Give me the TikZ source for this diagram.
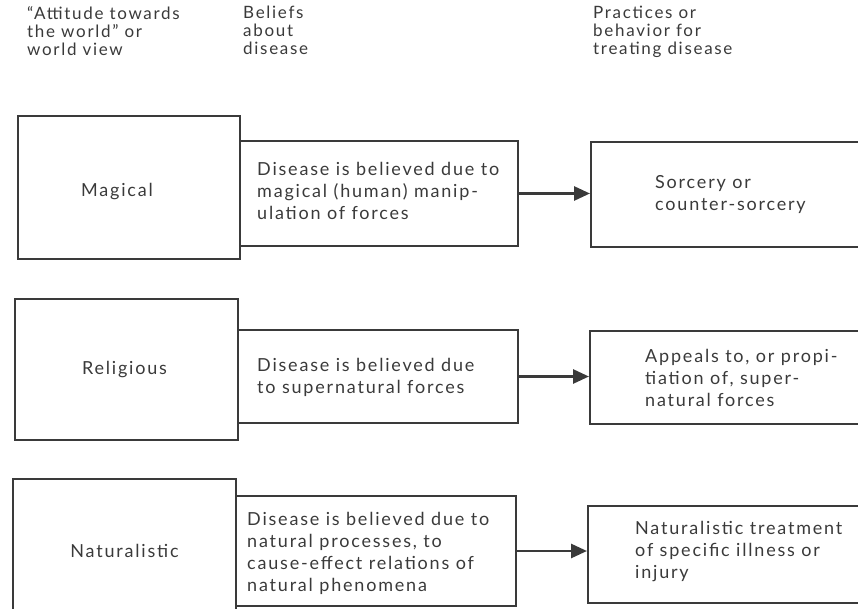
\documentclass[tikz,border=0pt]{standalone}
\usepackage{fontspec}
\setmainfont{Lato}
\newfontfamily\bodyfont[LetterSpace=10]{Lato}
\newfontfamily\headfont[LetterSpace=10]{Lato}
\usetikzlibrary{arrows.meta,calc}
\definecolor{ink}{HTML}{3A3A3A}
\begin{document}
\begin{tikzpicture}[x=1pt,y=-1pt,
  box/.style={draw=ink,line width=2pt,rectangle,inner sep=0pt,anchor=north west},
  body/.style={text=ink,font=\bodyfont\fontsize{18}{22}\selectfont,align=left,anchor=west,inner sep=0pt},
  cbody/.style={text=ink,font=\bodyfont\fontsize{18}{22}\selectfont,align=center,inner sep=0pt},
  head/.style={text=ink,font=\headfont\fontsize{17}{18}\selectfont,align=left,anchor=north west,inner sep=0pt},
  arr/.style={draw=ink,line width=2.8pt,-{Triangle[length=16pt,width=14pt]}}]
\useasboundingbox (0,0) rectangle (858,609);
% headers
\node[head] (h1) at (27,6) {“Attitude towards\\the world” or\\world view};
\node[head] (h2) at (243,6) {Beliefs\\about\\disease};
\node[head] (h3) at (593,6) {Practices or\\behavior for\\treating disease};
% row 1
\node[box,minimum width=222pt,minimum height=143pt] (l1) at (17,115) {};
\node[box,minimum width=278pt,minimum height=105pt] (m1) at (239,140) {};
\node[box,minimum width=290pt,minimum height=105pt] (r1) at (590,141) {};
\node[cbody] (lt1) at ($(l1.center)+(-12,4)$) {Magical};
\node[body] (mt1) at ($(m1.west)+(18,-3)$) {Disease is believed due to\\magical (human) manip-\\ulation of forces};
\node[body] (rt1) at ($(r1.west)+(65,0)$) {Sorcery or\\counter-sorcery};
\draw[arr] (m1.east) -- (m1.east -| r1.west);
% row 2
\node[box,minimum width=223pt,minimum height=141pt] (l2) at (14,298) {};
\node[box,minimum width=280pt,minimum height=93pt] (m2) at (237,329) {};
\node[box,minimum width=290pt,minimum height=93pt] (r2) at (589,330) {};
\node[cbody] (lt2) at ($(l2.center)+(-2,0)$) {Religious};
\node[body] (mt2) at ($(m2.west)+(20,1)$) {Disease is believed due\\to supernatural forces};
\node[body] (rt2) at ($(r2.west)+(56,0)$) {Appeals to, or propi-\\tiation of, super-\\natural forces};
\draw[arr] (m2.east) -- (m2.east -| r2.west);
% row 3
\node[box,minimum width=223pt,minimum height=145pt] (l3) at (12,478) {};
\node[box,minimum width=280pt,minimum height=110pt] (m3) at (235,495) {};
\node[box,minimum width=290pt,minimum height=97pt] (r3) at (587,505) {};
\node[cbody] (lt3) at (l3.center |- m3.west) {Naturalistic};
\node[body] (mt3) at ($(m3.west)+(12,2)$) {Disease is believed due to\\natural processes, to\\cause-effect relations of\\natural phenomena};
\node[body] (rt3) at ($(r3.west)+(48,-3)$) {Naturalistic treatment\\of specific illness or\\injury};
\draw[arr] (m3.east) -- (m3.east -| r3.west);
\end{tikzpicture}
\end{document}
